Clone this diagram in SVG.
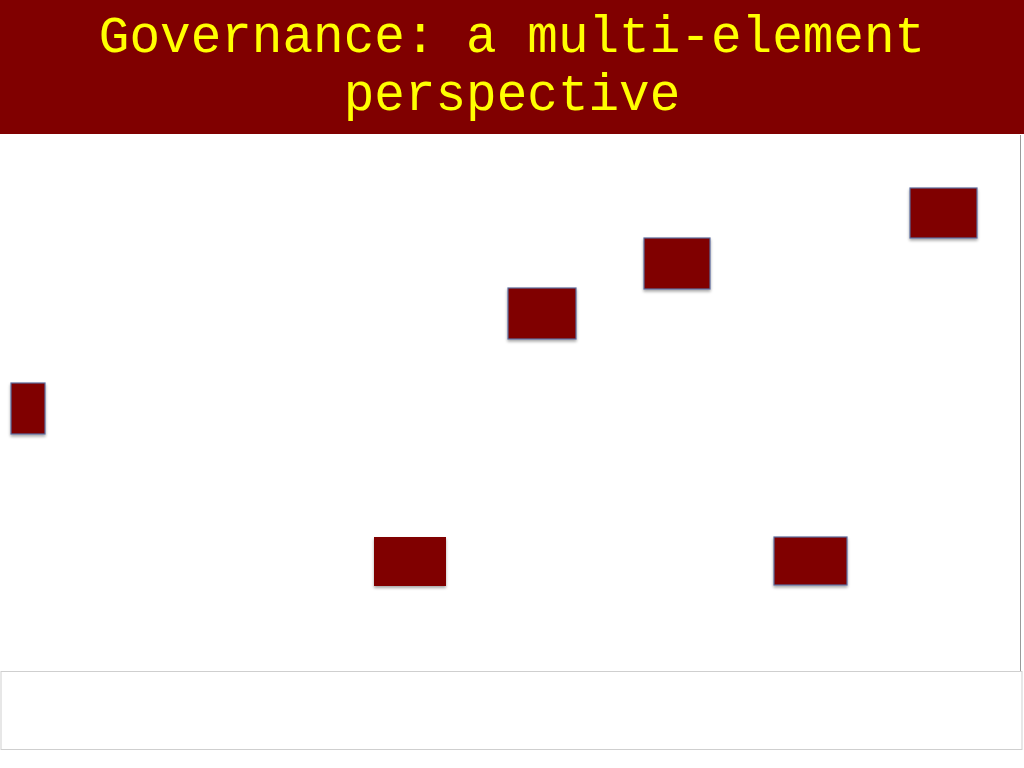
<svg xmlns="http://www.w3.org/2000/svg" width="1024" height="768" viewBox="0 0 1024 768">
<style>
.title{font-family:"Liberation Mono","Courier New",monospace;font-size:51px;fill:#FFFF00;text-anchor:middle}
.box{fill:#800000;stroke:#5A6A9C;stroke-width:1.2;filter:url(#sh)}
.box2{fill:#800000;filter:url(#sh)}
</style>
<defs>
<filter id="sh" x="-20%" y="-20%" width="140%" height="150%">
<feGaussianBlur in="SourceAlpha" stdDeviation="1.5"/>
<feOffset dx="0" dy="2" result="b"/>
<feComponentTransfer><feFuncA type="linear" slope="0.35"/></feComponentTransfer>
<feMerge><feMergeNode/><feMergeNode in="SourceGraphic"/></feMerge>
</filter>
</defs>
<rect x="0" y="0" width="1024" height="768" fill="#ffffff"/>
<g id="header">
<rect x="0" y="0" width="1024" height="134" fill="#800000"/>
<text class="title" x="512" y="52">Governance: a multi-element</text>
<text class="title" x="512" y="110">perspective</text>
</g>
<line x1="1020.5" y1="135" x2="1020.5" y2="671" stroke="#9a9a9a" stroke-width="1"/>
<g id="node1"><rect class="box" x="910" y="188" width="67" height="50"/></g>
<g id="node2"><rect class="box" x="644" y="238" width="66" height="51"/></g>
<g id="node3"><rect class="box" x="508" y="288" width="68" height="51"/></g>
<g id="node4"><rect class="box" x="11" y="383" width="34" height="51"/></g>
<g id="node5"><rect class="box2" x="374" y="537" width="72" height="49"/></g>
<g id="node6"><rect class="box" x="774" y="537" width="73" height="48"/></g>
<g id="connectors"></g>
<g id="footer"><rect x="1" y="671.5" width="1021" height="78" fill="#ffffff" stroke="#cfcfcf" stroke-width="1"/></g>
</svg>
